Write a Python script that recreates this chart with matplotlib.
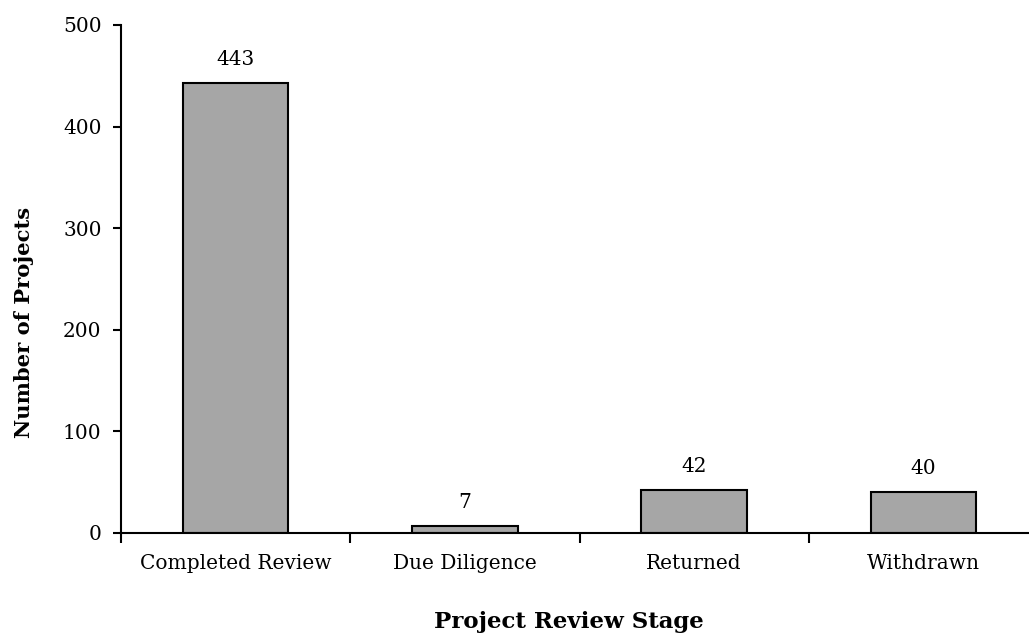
import matplotlib
matplotlib.use("Agg")
import matplotlib.pyplot as plt
import numpy as np

stages = ["Completed Review", "Due Diligence", "Returned", "Withdrawn"]
projects = [443, 7, 42, 40]

plt.rcParams["font.family"] = ["DejaVu Serif"]

fig = plt.figure(figsize=(10.29, 6.35), dpi=100)
# axes spans 121..1038 px horizontally, 0 at y=533, 500 at y=25
ax = fig.add_axes([121 / 1029, (635 - 533) / 635, 917 / 1029, 508 / 635])

x = np.arange(len(stages))
ax.bar(x, projects, width=0.46, color="#a6a6a6", edgecolor="black", linewidth=1.5)

for xi, v in zip(x, projects):
    ax.annotate(str(v), (xi, v), xytext=(0, 10), textcoords="offset points",
                ha="center", va="bottom", fontsize=14.5)

ax.set_xlim(-0.5, len(stages) - 0.5)
ax.set_ylim(0, 500)
ax.set_yticks([0, 100, 200, 300, 400, 500])
ax.set_xticks(x)
ax.set_xticklabels(stages, fontsize=14.5)
ax.tick_params(axis="y", labelsize=14.5, length=6, width=1.5, direction="out", pad=8)
ax.tick_params(axis="x", which="major", length=0, pad=15)
ax.set_xticks(np.arange(len(stages) + 1) - 0.5, minor=True)
ax.tick_params(axis="x", which="minor", length=7, width=1.5, direction="out")

for side in ["top", "right"]:
    ax.spines[side].set_visible(False)
for side in ["left", "bottom"]:
    ax.spines[side].set_linewidth(1.5)

ax.set_ylabel("Number of Projects", fontsize=15.2, fontweight="bold")
ax.yaxis.set_label_coords(-(121 - 34) / 917, (533 - 322) / 508)
ax.set_xlabel("Project Review Stage", fontsize=16.5, fontweight="bold")
ax.xaxis.set_label_coords((569 - 121) / 917, -(611 - 533) / 508)

fig.savefig("out.png", dpi=100)
